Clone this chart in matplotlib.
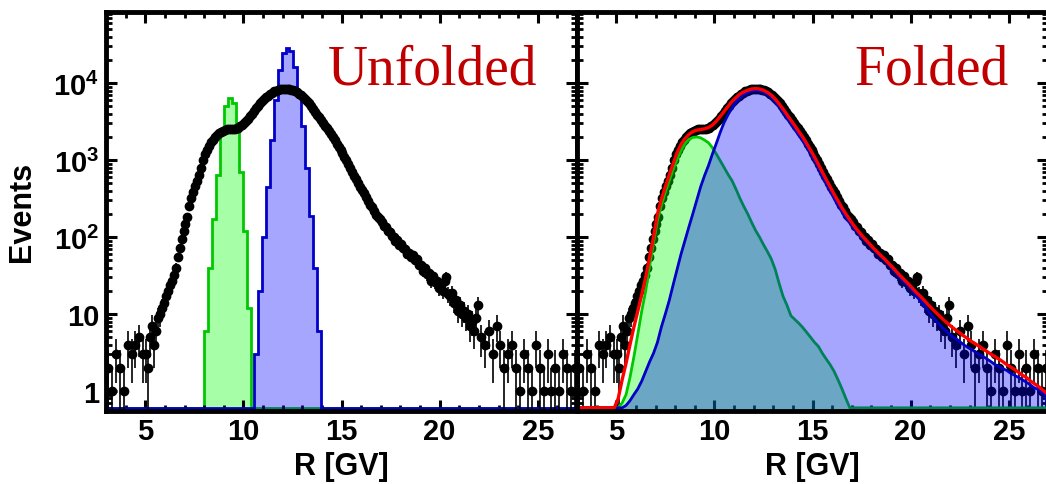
import numpy as np
import matplotlib
matplotlib.use('Agg')
import matplotlib.pyplot as plt
from matplotlib.ticker import MultipleLocator, LogLocator

plt.rcParams['font.family'] = ['Liberation Sans', 'DejaVu Sans']
plt.rcParams['font.weight'] = 'bold'
plt.rcParams['mathtext.fontset'] = 'custom'
plt.rcParams['mathtext.rm'] = 'Liberation Sans:bold'
plt.rcParams['mathtext.bf'] = 'Liberation Sans:bold'

# ---- data ----
bin_w = 0.2

# measured events: 0.2 GV bins in the tails, 0.1 GV bins in the core
counts_low_tail = [2, 1, 3, 2, 1, 4, 3, 4, 5, 3]            # 3.1 .. 4.9
counts_core = [                                            # 5.05 .. 21.95
    3, 2, 5, 7, 4, 6, 9, 10, 12, 14,
    17, 20, 24, 27, 32, 40, 55, 72, 95, 120,
    150, 185, 250, 320, 390, 460, 540, 640, 800, 1000,
    1200, 1350, 1520, 1700, 1850, 2000, 2150, 2250, 2350, 2420,
    2480, 2530, 2550, 2550, 2560, 2560, 2600, 2650, 2750, 2850,
    3050, 3250, 3450, 3700, 3980, 4300, 4700, 5100, 5450, 5800,
    6200, 6600, 6900, 7200, 7500, 7800, 8000, 8200, 8350, 8450,
    8500, 8500, 8450, 8350, 8200, 8050, 7850, 7600, 7300, 7000,
    6650, 6250, 5850, 5450, 5000, 4600, 4250, 3900, 3600, 3350,
    3050, 2800, 2600, 2400, 2200, 2000, 1800, 1620, 1480, 1350,
    1220, 1100, 1000, 900, 800, 700, 630, 570, 510, 450,
    410, 370, 330, 290, 265, 245, 215, 195, 180, 172,
    155, 138, 135, 120, 118, 104, 100, 88, 92, 80,
    82, 72, 70, 60, 63, 55, 58, 50, 52, 44,
    44, 36, 40, 33, 34, 27, 31, 26, 27, 22,
    24, 20, 27, 30, 18, 17, 19, 14, 15, 11,
    13, 10, 11, 9, 10, 7, 8, 6, 9, 13,
]
counts_high_tail = [                                       # 22.1 .. 26.9
    5, 4, 6, 3, 7, 4, 2, 3, 4, 2,
    1, 3, 2, 1, 4, 2, 1, 3, 1, 2,
    1, 3, 2, 1, 2,
]

# unfolded components (0.2 GV bins starting at *_lo)
unf_green_lo = 8.0
unf_green = [6, 40, 170, 650, 2200, 5000, 6500, 5500, 2600, 700, 120, 12]
unf_blue_lo = 10.55
unf_blue = [3, 20, 100, 450, 1800, 6000, 15000, 25000, 29000, 26000,
            16000, 7000, 2800, 800, 190, 40, 6]

# folded components (0.2 GV bins starting at *_lo)
fold_green_lo = 5.0
fold_green = [
    0.56, 0.7, 0.9, 1.5, 2.8, 5.5, 11, 20, 42, 85,
    165, 260, 380, 540, 760, 1020, 1330, 1650, 1870, 1970,
    2000, 1950, 1820, 1680, 1450, 1200, 980, 800, 650, 540,
    420, 320, 250, 200, 155, 122, 100, 80, 65, 52,
    38, 25, 17, 13, 9.5, 8.5, 7.6, 6.7, 5.8, 5.0,
    4.3, 3.8, 3.1, 2.6, 2.2, 1.8, 1.4, 1.07, 0.8, 0.6,
]
fold_blue_lo = 5.0
fold_blue = [
    0.5, 0.57, 0.65, 0.75, 0.9, 1.07, 1.35, 1.8, 2.4, 3.1,
    4.3, 6.8, 10, 15, 24, 38, 60, 90, 135, 200,
    300, 450, 630, 850, 1200, 1650, 2300, 3100, 3900, 4800,
    5700, 6500, 7100, 7600, 7950, 8050, 7950, 7650, 7200, 6500,
    5800, 5000, 4200, 3500, 3000, 2500, 2100, 1800, 1500, 1230,
    1000, 800, 620, 500, 400, 320, 260, 215, 180, 155,
    132, 115, 100, 90, 80, 71, 63, 56, 50, 44,
    38, 33, 29, 26, 23, 20, 17, 15, 13, 11,
    9.5, 8.2, 7.2, 6.4, 5.8, 5.2, 4.8, 4.4, 4.0, 3.7,
    3.5, 3.2, 3.0, 2.8, 2.6, 2.4, 2.2, 2.1, 1.95, 1.85,
    1.7, 1.6, 1.5, 1.4, 1.3, 1.2, 1.1, 1.05, 0.95, 0.85,
]

# fit curve, 0.2 GV steps from 3.1 to 26.9
fit_lo = 3.0
fit_red = [
    0, 0, 0, 0, 0, 0, 0, 0, 0, 0,
    0.8, 1.4, 2.3, 4.0, 6.8, 11, 18, 30, 55, 100,
    200, 310, 450, 640, 900, 1250, 1600, 1900, 2150, 2350,
    2450, 2500, 2550, 2650, 2850, 3200, 3700, 4300, 5000, 5800,
    6500, 7200, 7700, 8100, 8400, 8500, 8400, 8100, 7600, 7000,
    6200, 5400, 4600, 3900, 3300, 2800, 2350, 2000, 1650, 1350,
    1100, 880, 700, 560, 450, 360, 295, 240, 200, 168,
    142, 122, 106, 93, 82, 72, 64, 57, 51, 45,
    40, 35, 31, 27.5, 24.5, 21.5, 19, 17, 15, 13.2,
    11.7, 10.4, 9.3, 8.3, 7.5, 6.8, 6.2, 5.7, 5.2, 4.8,
    4.4, 4.1, 3.8, 3.5, 3.25, 3.0, 2.8, 2.6, 2.4, 2.2,
    2.05, 1.9, 1.75, 1.6, 1.5, 1.35, 1.25, 1.15, 1.05, 0.95,
]

XMIN, XMAX = 3.0, 27.0
YMIN, YMAX = 0.55, 8.4e4
FLOOR = YMIN * 1.1

GREEN_EDGE = '#00c800'
BLUE_EDGE = '#0000c8'
GREEN_FILL = (0.0, 1.0, 0.0, 0.35)
BLUE_FILL = (0.0, 0.0, 1.0, 0.35)
TXT_RED = '#c00000'

data_r = np.concatenate([np.arange(3.1, 5.0, 0.2),
                         np.arange(5.05, 22.0, 0.1),
                         np.arange(22.1, 27.0, 0.2)])
data_n = np.array(counts_low_tail + counts_core + counts_high_tail, float)


def draw_stairs(ax, lo, counts, fill, edge, z):
    counts = np.asarray(counts, float)
    edges = lo + bin_w * np.arange(len(counts) + 1)
    e = np.concatenate([[XMIN], edges, [XMAX]])
    v = np.maximum(np.concatenate([[0.0], counts, [0.0]]), FLOOR)
    ax.stairs(v, e, baseline=YMIN, fill=True, color=fill, lw=0, zorder=z)
    ax.stairs(v, e, baseline=None, color=edge, lw=2.0, zorder=z)


def draw_smooth(ax, lo, counts, fill, edge, z):
    counts = np.asarray(counts, float)
    n = len(counts)
    x = lo + bin_w * (np.arange(n) + 0.5)
    xs = np.concatenate([[XMIN, lo], x, [lo + n * bin_w, XMAX]])
    ys = np.maximum(np.concatenate([[0.0, 0.0], counts, [0.0, 0.0]]), FLOOR)
    ax.fill_between(xs, ys, YMIN, color=fill, lw=0, zorder=z)
    ax.plot(xs, ys, color=edge, lw=2.0, zorder=z)


def draw_data(ax, z):
    err = np.sqrt(data_n)
    err_lo = np.minimum(err, data_n - YMIN * 0.5)
    ax.errorbar(data_r, data_n, yerr=[err_lo, err], fmt='o', color='black', ms=6,
                elinewidth=1.2, capsize=0, zorder=z)


fig = plt.figure(figsize=(10.46, 4.85), dpi=100)
ax1 = fig.add_axes([106 / 1046, 73 / 485, 471 / 1046, 399 / 485])
ax2 = fig.add_axes([577 / 1046, 73 / 485, 471 / 1046, 399 / 485])

# left: unfolded
draw_stairs(ax1, unf_green_lo, unf_green, GREEN_FILL, GREEN_EDGE, 1.5)
draw_stairs(ax1, unf_blue_lo, unf_blue, BLUE_FILL, BLUE_EDGE, 1.6)
draw_data(ax1, 3)

# right: folded
draw_data(ax2, 2)
draw_smooth(ax2, fold_green_lo, fold_green, GREEN_FILL, GREEN_EDGE, 3)
draw_smooth(ax2, fold_blue_lo, fold_blue, BLUE_FILL, BLUE_EDGE, 3.1)
xc = fit_lo + bin_w * (np.arange(len(fit_red)) + 0.5)
ax2.plot(xc, np.maximum(fit_red, FLOOR), color='red', lw=2.4, zorder=4)

for ax in (ax1, ax2):
    ax.set_yscale('log')
    ax.set_xlim(XMIN, XMAX)
    ax.set_ylim(YMIN, YMAX)
    ax.xaxis.set_major_locator(MultipleLocator(5))
    ax.xaxis.set_minor_locator(MultipleLocator(1))
    ax.set_yticks([1, 10, 100, 1000, 10000],
                  labels=['1', '10', r'$\mathbf{10^{2}}$', r'$\mathbf{10^{3}}$', r'$\mathbf{10^{4}}$'])
    ax.yaxis.set_minor_locator(LogLocator(base=10, subs=np.arange(2, 10), numticks=20))
    ax.tick_params(which='both', direction='in', top=True, right=True)
    ax.tick_params(which='major', length=8, width=2.2)
    ax.tick_params(which='minor', length=4, width=2)
    ax.tick_params(axis='x', labelsize=21, pad=4)
    ax.tick_params(axis='y', labelsize=21, pad=5)
    for sp in ax.spines.values():
        sp.set_linewidth(3.5)
        sp.set_zorder(5)
    ax.set_xlabel('R [GV]', fontsize=22, fontweight='bold', labelpad=5)

ax2.tick_params(labelleft=False)

ax1.text(25.0, 1e4, 'Unfolded', ha='right', va='baseline', family='Liberation Serif',
         fontsize=40, fontweight='normal', color=TXT_RED)
ax2.text(25.0, 1e4, 'Folded', ha='right', va='baseline', family='Liberation Serif',
         fontsize=40, fontweight='normal', color=TXT_RED)

fig.text(22 / 1046, 1 - 212 / 485, 'Events', rotation=90, ha='center', va='center',
         fontsize=22, fontweight='bold')

fig.savefig('out.png', dpi=100)
